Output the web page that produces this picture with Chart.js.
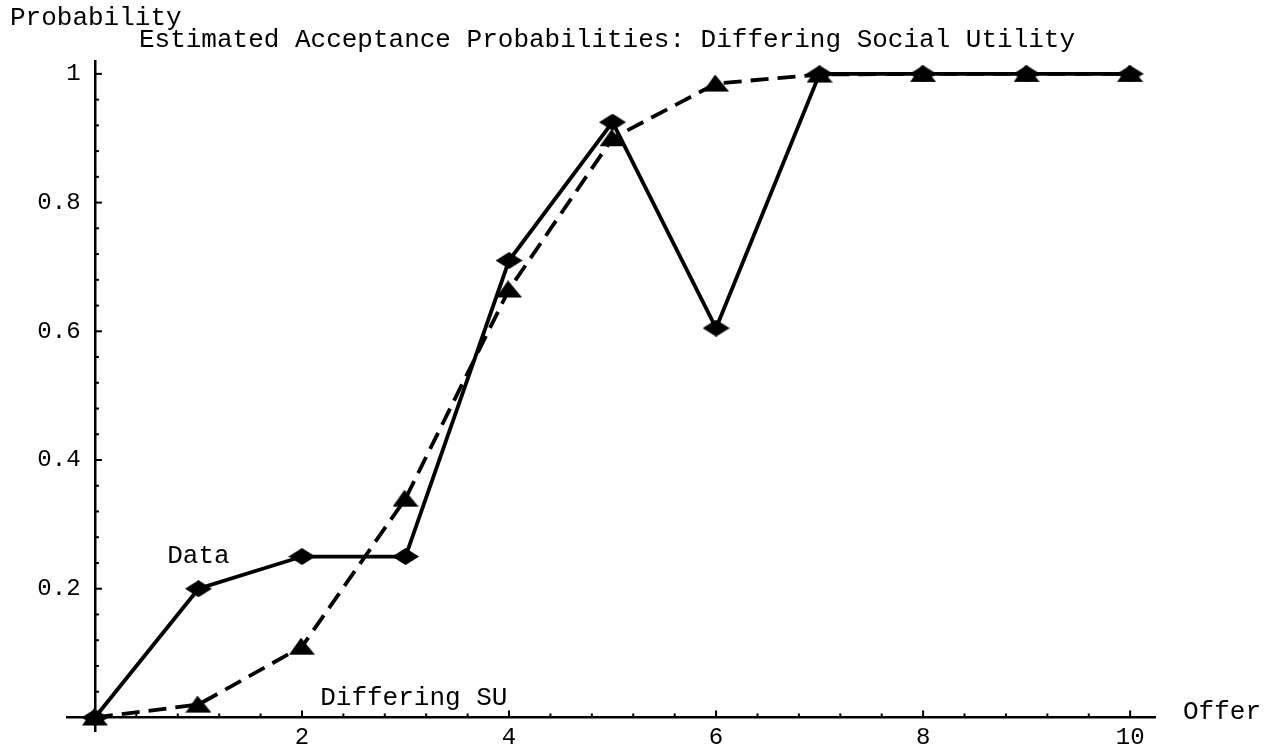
<!DOCTYPE html>
<html>
<head>
<meta charset="utf-8">
<script src="https://cdn.jsdelivr.net/npm/chart.js@4"></script>
<style>
  html, body { margin: 0; padding: 0; background: #fff; }
  #wrap { width: 1274px; height: 746px; position: relative; }
</style>
</head>
<body>
<div id="wrap"><canvas id="acceptCanvas"></canvas></div>
<script>
const offers = [0, 1, 2, 3, 4, 5, 6, 7, 8, 9, 10];
const dataProb = [0, 0.2, 0.25, 0.25, 0.71, 0.925, 0.605, 1, 1, 1, 1];
const suProb = [0, 0.02, 0.11, 0.34, 0.665, 0.9, 0.985, 0.999, 1, 1, 1];
const xTickLabels = [2, 4, 6, 8, 10];
const yTickLabels = [0.2, 0.4, 0.6, 0.8, 1];
const xMinorTicks = [0.4, 0.8, 1.2, 1.6, 2.4, 2.8, 3.2, 3.6, 4.4, 4.8, 5.2, 5.6, 6.4, 6.8, 7.2, 7.6, 8.4, 8.8, 9.2, 9.6];
const yMinorTicks = [0.04, 0.08, 0.12, 0.16, 0.24, 0.28, 0.32, 0.36, 0.44, 0.48, 0.52, 0.56, 0.64, 0.68, 0.72, 0.76, 0.84, 0.88, 0.92, 0.96];

const FONT = "'Liberation Mono', 'Courier New', monospace";

// flattened marker shapes, like the original print
function makeMarker(kind) {
  const c = document.createElement('canvas');
  const ctx = c.getContext('2d');
  if (kind === 'diamond') {
    c.width = 27; c.height = 17;
    ctx.beginPath();
    ctx.moveTo(0, 8.5); ctx.lineTo(13.5, 0); ctx.lineTo(27, 8.5); ctx.lineTo(13.5, 17);
  } else {
    c.width = 26; c.height = 18;
    ctx.beginPath();
    ctx.moveTo(12, 0); ctx.lineTo(26, 17); ctx.lineTo(0, 17);
  }
  ctx.closePath();
  ctx.fillStyle = '#000';
  ctx.fill();
  return c;
}

const tickMarks = {
  id: 'tickMarks',
  afterDraw(chart) {
    const {ctx, scales: {x, y}} = chart;
    const x0 = x.getPixelForValue(0);
    const y0 = y.getPixelForValue(0);
    ctx.save();
    ctx.strokeStyle = '#000';
    ctx.lineWidth = 2;
    const xt = (v, len) => {
      const px = x.getPixelForValue(v);
      ctx.beginPath(); ctx.moveTo(px, y0); ctx.lineTo(px, y0 - len); ctx.stroke();
    };
    const yt = (v, len) => {
      const py = y.getPixelForValue(v);
      ctx.beginPath(); ctx.moveTo(x0, py); ctx.lineTo(x0 + len, py); ctx.stroke();
    };
    xTickLabels.forEach(v => xt(v, 7));
    xMinorTicks.forEach(v => xt(v, 4));
    yTickLabels.forEach(v => yt(v, 7));
    yMinorTicks.forEach(v => yt(v, 4));
    ctx.restore();
  }
};

const textLabels = {
  id: 'textLabels',
  afterDraw(chart) {
    const {ctx, scales: {x, y}} = chart;
    ctx.save();
    ctx.fillStyle = '#000';
    ctx.font = '26px ' + FONT;
    ctx.textBaseline = 'alphabetic';
    ctx.textAlign = 'left';
    ctx.fillText('Probability', 10, 25);
    ctx.fillText('Offer', 1183, 719);
    ctx.textAlign = 'center';
    ctx.fillText('Estimated Acceptance Probabilities: Differing Social Utility', 607, 47);
    ctx.fillText('Data', x.getPixelForValue(1.0), y.getPixelForValue(0.24));
    ctx.fillText('Differing SU', x.getPixelForValue(3.08), y.getPixelForValue(0.02));
    ctx.restore();
  }
};

const chart = new Chart(
  document.getElementById('acceptCanvas'),
  {
    type: 'line',
    data: {
      datasets: [
        {
          label: 'Data',
          data: offers.map((o, i) => ({x: o, y: dataProb[i]})),
          borderColor: '#000',
          backgroundColor: '#000',
          borderWidth: 3.8,
          pointStyle: makeMarker('diamond'),
          tension: 0
        },
        {
          label: 'Differing SU',
          data: offers.map((o, i) => ({x: o, y: suProb[i]})),
          borderColor: '#000',
          backgroundColor: '#000',
          borderWidth: 3.8,
          borderDash: [18, 9],
          pointStyle: makeMarker('triangle'),
          tension: 0
        }
      ]
    },
    options: {
      responsive: true,
      maintainAspectRatio: false,
      animation: false,
      layout: { padding: { left: 67, right: 119, top: 61, bottom: 13 } },
      plugins: {
        legend: { display: false },
        title: { display: false },
        tooltip: { enabled: false }
      },
      scales: {
        x: {
          type: 'linear',
          position: { y: 0 },
          min: -0.27,
          max: 10.24,
          afterBuildTicks: s => { s.ticks = xTickLabels.map(v => ({value: v})); },
          grid: { display: false, drawTicks: false },
          border: { display: true, color: '#000', width: 2.5 },
          ticks: {
            color: '#000',
            font: { family: FONT, size: 24 },
            padding: 6,
            maxRotation: 0,
            autoSkip: false,
            callback: v => String(v)
          }
        },
        y: {
          type: 'linear',
          position: { x: 0 },
          min: -0.022,
          max: 1.02,
          afterBuildTicks: s => { s.ticks = yTickLabels.map(v => ({value: v})); },
          grid: { display: false, drawTicks: false },
          border: { display: true, color: '#000', width: 2.5 },
          ticks: {
            color: '#000',
            font: { family: FONT, size: 24 },
            padding: 0,
            autoSkip: false,
            callback: v => String(v) + ' '
          }
        }
      }
    },
    plugins: [tickMarks, textLabels]
  }
);
</script>
</body>
</html>
